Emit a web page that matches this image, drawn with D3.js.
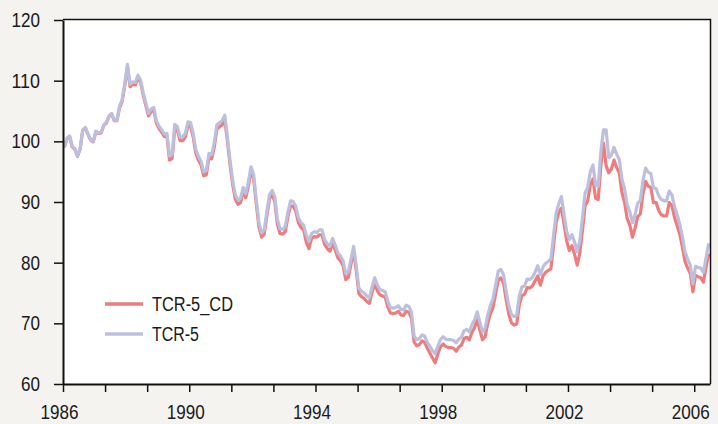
<!DOCTYPE html>
<html lang="en">
<head>
<meta charset="UTF-8">
<script src="https://d3js.org/d3.v7.min.js"></script>
<title>TCR-5</title>
<style>
  body { margin: 0; background: #f4f3ef; }
  text { font-family: 'Liberation Sans', Arial, sans-serif; fill: #1a1a1a; }
</style>
</head>
<body>
<svg width="718" height="424" id="chart"></svg>
<script>
// monthly data, Jan 1986 .. Jun 2006
var startYear = 1986;
var seriesNames = ['TCR-5_CD', 'TCR-5'];
var yTicks = [60, 70, 80, 90, 100, 110, 120];

var tcr5 = [
  99.1, 100.5, 100.9, 99.2, 98.8, 97.6, 98.8, 101.9, 102.3, 101.2,
  100.3, 100.0, 101.7, 101.4, 101.5, 102.7, 103.1, 104.2, 104.6, 103.5,
  103.5, 105.8, 106.9, 109.5, 112.7, 109.4, 109.8, 109.7, 110.9, 110.1,
  108.0, 106.3, 104.6, 105.3, 105.6, 103.4, 102.5, 101.9, 101.2, 101.3,
  97.6, 97.8, 102.8, 102.4, 100.7, 100.7, 101.3, 103.2, 103.1, 101.3,
  98.6, 97.5, 96.7, 95.0, 95.2, 98.0, 97.8, 99.7, 102.7, 103.1,
  103.4, 104.3, 100.8, 96.9, 93.6, 91.2, 90.3, 90.6, 92.4, 91.4,
  93.4, 95.8, 94.5, 90.3, 86.6, 84.9, 85.4, 88.4, 91.2, 91.9,
  90.9, 87.2, 85.6, 85.5, 85.9, 88.3, 90.2, 90.1, 89.3, 87.4,
  86.6, 86.2, 84.6, 83.5, 84.8, 85.1, 85.0, 85.4, 85.4, 83.8,
  83.1, 82.7, 84.0, 82.9, 81.6, 81.1, 80.3, 78.2, 78.5, 80.6,
  82.7, 79.5, 75.8, 75.3, 75.0, 74.5, 74.2, 76.0, 77.5, 76.3,
  75.6, 75.4, 75.2, 73.6, 72.6, 72.5, 72.6, 72.9, 72.3, 72.2,
  73.0, 72.8, 71.8, 67.9, 67.3, 67.5, 68.1, 67.9, 66.9, 66.2,
  65.5, 65.0, 66.2, 67.3, 67.8, 67.4, 67.3, 67.3, 67.2, 66.8,
  67.4, 67.7, 68.8, 69.0, 68.6, 69.8, 70.6, 71.9, 70.2, 68.6,
  69.2, 71.4, 73.0, 74.0, 76.3, 78.6, 78.9, 78.0, 75.3, 72.9,
  71.5, 71.1, 71.3, 74.5, 76.0, 76.2, 77.3, 77.2, 77.6, 78.4,
  79.5, 78.0, 79.3, 79.9, 80.2, 80.6, 84.5, 88.2, 89.7, 90.9,
  88.0, 85.2, 83.8, 84.6, 83.4, 81.8, 83.6, 87.3, 91.5, 92.4,
  95.0, 96.1, 92.8, 92.6, 98.3, 101.9, 101.9, 97.3, 97.7, 99.0,
  97.9, 97.0, 93.8, 92.2, 89.5, 88.4, 86.6, 87.9, 89.8, 90.2,
  93.5, 95.6, 94.9, 94.7, 92.3, 92.2, 91.0, 90.4, 90.2, 90.2,
  91.8, 91.2, 89.3, 87.9, 86.4, 84.3, 81.8, 80.6, 79.6, 76.5,
  79.4, 79.2, 79.1, 78.4, 80.8, 83.2
];

var tcr5cd = [
  99.0, 100.4, 100.8, 99.1, 98.7, 97.5, 98.7, 101.8, 102.2, 101.1,
  100.2, 99.9, 101.6, 101.3, 101.4, 102.6, 103.0, 104.1, 104.5, 103.4,
  103.4, 105.5, 106.6, 109.2, 112.3, 109.0, 109.4, 109.3, 110.5, 109.7,
  107.6, 105.9, 104.2, 104.9, 105.2, 103.0, 102.1, 101.5, 100.8, 100.9,
  96.9, 97.2, 102.2, 101.8, 100.1, 100.1, 100.7, 102.6, 102.5, 100.7,
  98.0, 96.9, 96.1, 94.3, 94.5, 97.3, 97.1, 99.0, 102.0, 102.4,
  102.7, 103.6, 100.1, 96.2, 92.9, 90.5, 89.6, 89.9, 91.7, 90.7,
  92.7, 95.1, 93.8, 89.6, 85.9, 84.2, 84.7, 87.7, 90.5, 91.2,
  90.1, 86.4, 84.8, 84.7, 85.1, 87.5, 89.4, 89.3, 88.5, 86.6,
  85.8, 85.4, 83.4, 82.3, 84.0, 84.3, 84.2, 84.6, 84.6, 83.0,
  82.3, 81.9, 83.2, 82.1, 80.8, 80.3, 79.5, 77.2, 77.6, 79.8,
  81.9, 78.7, 74.9, 74.4, 74.1, 73.6, 73.3, 75.1, 76.6, 75.4,
  74.7, 74.5, 74.3, 72.7, 71.7, 71.6, 71.7, 72.0, 71.4, 71.3,
  72.0, 71.8, 70.8, 66.9, 66.3, 66.5, 67.1, 66.9, 65.9, 65.1,
  64.3, 63.5, 64.9, 66.1, 66.6, 66.2, 66.0, 66.0, 65.9, 65.4,
  66.1, 66.4, 67.5, 67.7, 67.3, 68.5, 69.3, 70.6, 68.9, 67.3,
  67.8, 70.0, 71.6, 72.6, 74.9, 77.2, 77.5, 76.6, 73.9, 71.5,
  70.1, 69.7, 69.9, 73.1, 74.6, 74.8, 75.9, 75.8, 76.2, 77.0,
  77.8, 76.3, 77.8, 78.4, 78.7, 79.0, 82.8, 86.6, 88.3, 89.0,
  86.4, 83.6, 82.0, 82.8, 81.4, 79.6, 81.6, 85.3, 89.4, 90.2,
  92.8, 93.8, 90.6, 90.4, 96.0, 99.7, 96.0, 94.8, 95.4, 96.9,
  95.7, 94.8, 91.6, 90.0, 87.3, 86.2, 84.2, 85.7, 87.6, 88.0,
  91.3, 93.4, 92.6, 92.4, 89.9, 89.9, 88.6, 87.9, 87.7, 87.7,
  89.9, 89.4, 87.5, 86.1, 84.7, 82.6, 80.2, 79.1, 78.2, 75.2,
  77.9, 77.7, 77.5, 76.8, 79.3, 81.5
];

var colors = ['#ee7c7c', '#bcc0de'];

var svg = d3.select('#chart');
var plotLeft = 63, plotRight = 710, plotTop = 20, plotBottom = 384;

svg.append('rect')
    .attr('width', 718).attr('height', 424)
    .attr('fill', '#f4f3ef');

svg.append('rect')
    .attr('x', plotLeft).attr('y', plotTop)
    .attr('width', plotRight - plotLeft).attr('height', plotBottom - plotTop)
    .attr('fill', '#ffffff');

var x = d3.scaleLinear()
    .domain([0, 246])
    .range([plotLeft, plotRight]);

var y = d3.scaleLinear()
    .domain([60, 120])
    .range([plotBottom, plotTop]);

var line = d3.line()
    .x(function(d, i){ return x(i + 0.5); })
    .y(function(d){ return y(d); });

svg.selectAll('.series')
    .data([tcr5cd, tcr5])
    .enter().append('path')
    .attr('class', 'series')
    .attr('d', line)
    .attr('fill', 'none')
    .attr('stroke', function(d, i){ return colors[i]; })
    .attr('stroke-width', 3.2)
    .attr('stroke-linejoin', 'round');

// frame top / right
svg.append('path')
    .attr('d', 'M' + plotLeft + ',' + (plotTop - 0.5) + 'H' + (plotRight + 0.5) + 'V' + plotBottom)
    .attr('fill', 'none')
    .attr('stroke', '#111')
    .attr('stroke-width', 1.5);

var yAxis = d3.axisLeft(y)
    .tickValues(yTicks)
    .tickSize(9)
    .tickSizeOuter(0)
    .tickPadding(14);

var gy = svg.append('g')
    .attr('transform', 'translate(' + plotLeft + ',0)')
    .call(yAxis);

var xTicks = d3.range(0, 241, 16);
var xAxis = d3.axisBottom(x)
    .tickValues(xTicks)
    .tickSize(8)
    .tickSizeOuter(0)
    .tickPadding(13)
    .tickFormat(function(d){ return d % 48 == 0 ? (startYear + d / 12) : ''; });

var gx = svg.append('g')
    .attr('transform', 'translate(0,' + plotBottom + ')')
    .call(xAxis);

// narrow lettering like the original
function squeeze(sel, perChar){
    sel.each(function(){
        var t = d3.select(this).text();
        if (t.length) {
            d3.select(this)
                .attr('textLength', t.length * perChar)
                .attr('lengthAdjust', 'spacingAndGlyphs');
        }
    });
}

[gx, gy].forEach(function(g){
    g.attr('font-family', null).attr('font-size', null);
    g.select('.domain').attr('stroke', '#111').attr('stroke-width', 2);
    g.selectAll('.tick line').attr('stroke', '#111').attr('stroke-width', 1.5);
    g.selectAll('.tick text')
        .style('font-size', '20px')
        .attr('fill', '#1a1a1a');
    squeeze(g.selectAll('.tick text'), 9.5);
});
gx.selectAll('.tick text').attr('dx', -4);

// legend
var legend = svg.selectAll('.legend')
    .data(seriesNames)
    .enter().append('g')
    .attr('class', 'legend')
    .attr('transform', function(d, i){ return 'translate(105,' + (304 + i * 30) + ')'; });

legend.append('line')
    .attr('x1', 0).attr('x2', 38)
    .attr('stroke', function(d, i){ return colors[i]; })
    .attr('stroke-width', 3.5);

legend.append('text')
    .attr('x', 47)
    .attr('dy', '0.35em')
    .style('font-size', '20px')
    .attr('textLength', function(d){ return d.length > 5 ? 81 : 47; })
    .attr('lengthAdjust', 'spacingAndGlyphs')
    .text(function(d){ return d; });
</script>
</body>
</html>
